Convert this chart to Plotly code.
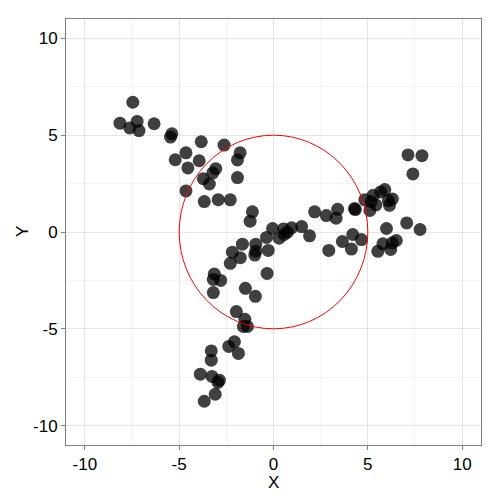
import plotly.graph_objects as go

# Point data
x_vals = [
    -7.46, -8.14, -7.62, -7.23, -7.13, -6.33, -5.39, -5.46, -3.83, -4.64,
    -5.21, -4.54, -3.94, -2.62, -1.77, -1.91, -3.06, -3.22, -3.72, -3.40,
    -1.91, -4.64, -3.67, -2.93, -2.29,
    -1.12, -1.24, 2.18, -0.05, 0.53, 0.96, 1.49, 1.91, 0.74, 0.30, 0.57,
    -0.37, -1.65, -0.94, -0.94, -0.99, -0.28, -2.18, -1.76, -2.29, -0.34,
    -3.14, -3.19, -2.80, -3.19, -1.49, -0.96, -1.97, -1.52, -1.60, -1.38,
    -2.07, -2.37, -1.86, -3.30, -3.30, -3.88, -3.26, -2.87, -2.94, -3.09, -3.67,
    7.13, 7.87, 7.39, 5.90, 5.68, 5.29, 4.84, 5.18, 5.43, 5.11, 6.09, 6.30,
    6.15, 4.29, 4.34, 3.40, 3.32, 2.80, 7.06, 7.77, 5.99, 4.20, 4.66, 3.65,
    4.13, 2.93, 5.53, 5.80, 6.21, 6.30, 6.51,
]
y_vals = [
    6.70, 5.62, 5.37, 5.71, 5.24, 5.59, 5.07, 4.90, 4.66, 4.09,
    3.73, 3.31, 3.68, 4.49, 4.09, 3.72, 3.27, 3.05, 2.75, 2.48,
    2.81, 2.12, 1.57, 1.67, 1.66,
    1.04, 0.56, 1.04, 0.18, 0.16, 0.22, 0.28, -0.20, -0.01, -0.32, -0.13,
    -0.28, -0.63, -0.63, -0.99, -1.19, -0.95, -1.04, -1.33, -1.62, -2.14,
    -2.17, -2.45, -2.50, -3.13, -2.91, -3.32, -4.11, -4.51, -4.88, -4.88,
    -5.67, -5.91, -6.27, -6.14, -6.62, -7.34, -7.46, -7.65, -7.77, -8.38, -8.74,
    3.98, 3.94, 3.00, 2.19, 2.07, 1.90, 1.66, 1.57, 1.40, 1.11, 1.62, 1.71,
    1.38, 1.21, 1.16, 1.17, 0.71, 0.85, 0.47, 0.13, 0.18, -0.13, -0.39, -0.49,
    -0.88, -0.95, -1.00, -0.61, -0.90, -0.56, -0.44,
]
circle_radius = 5
tick_vals = [-10, -5, 0, 5, 10]
axis_range = [-11, 11]
x_title = "X"
y_title = "Y"

fig = go.Figure()
fig.add_trace(go.Scatter(
    x=x_vals, y=y_vals, mode="markers",
    marker=dict(size=13, color="rgba(0,0,0,0.75)", line=dict(width=0)),
    showlegend=False, hoverinfo="skip",
))
fig.add_shape(type="circle", xref="x", yref="y",
              x0=-circle_radius, y0=-circle_radius, x1=circle_radius, y1=circle_radius,
              line=dict(color="red", width=1), layer="above")

font = "Liberation Sans, Arial, sans-serif"
axis_common = dict(
    range=axis_range, tickvals=tick_vals, ticktext=[str(v) for v in tick_vals],
    automargin=False,
    showgrid=True, gridcolor="#E5E5E5", gridwidth=1,
    minor=dict(showgrid=True, gridcolor="#F5F5F5", gridwidth=1, dtick=2.5, tick0=0, ticks=""),
    zeroline=False, showline=True, linecolor="#7F7F7F", linewidth=1, mirror=True,
    ticks="outside", ticklen=4, tickcolor="#7F7F7F", tickwidth=1,
    tickfont=dict(family=font, size=17, color="black"),
)
fig.update_xaxes(**axis_common)
fig.update_yaxes(**axis_common)

title_font = dict(family=font, size=17, color="black")
fig.add_annotation(text=x_title, xref="paper", yref="paper", x=0.5, y=-0.089,
                   xanchor="center", yanchor="middle", showarrow=False, font=title_font)
fig.add_annotation(text=y_title, xref="paper", yref="paper", x=-0.106, y=0.5,
                   xanchor="center", yanchor="middle", showarrow=False, textangle=-90,
                   font=title_font)

fig.update_layout(
    width=500, height=500,
    margin=dict(l=58, r=27, t=11, b=63),
    plot_bgcolor="white", paper_bgcolor="white",
)
fig.write_html("out.html")
